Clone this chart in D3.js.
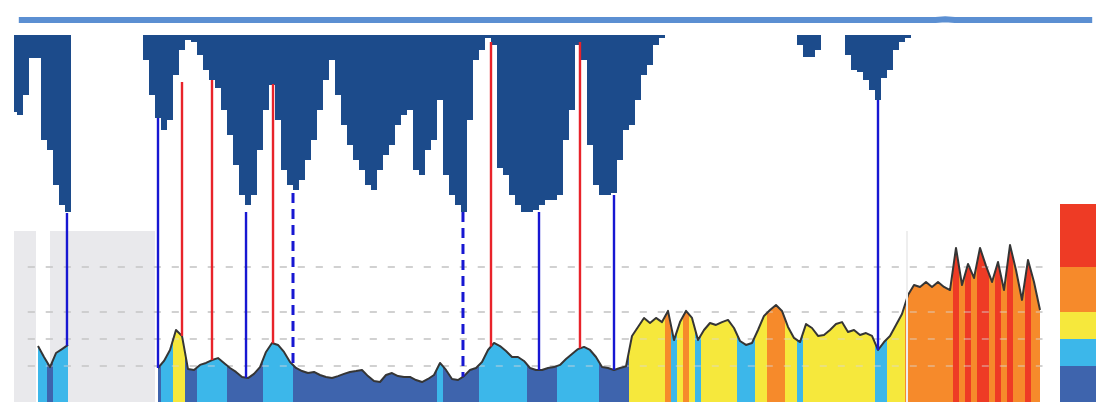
<!DOCTYPE html>
<html>
<head>
<meta charset="utf-8">
<script src="https://cdn.jsdelivr.net/npm/d3@7"></script>
<style>
  html, body { margin: 0; padding: 0; background: #fff; overflow: hidden; }
  svg { display: block; }
</style>
</head>
<body>
<svg id="chart" width="1096" height="402"></svg>
<script>
// ---- data -------------------------------------------------------------
// Concentration per time step (null = no reading)
const concentration = [
  null, null, null, null, 31.1, 25, 19.4, 27.2, 29.4, 31.7,
  null, null, null, null, null, null, null, null, null, null,
  null, null, null, null, 18.9, 22.8, 28.9, 40, 36.7, 18.3,
  17.8, 20.6, 21.7, 23.3, 24.4, 21.7, 18.9, 16.7, 13.9, 13.3,
  15.6, 19.4, 27.8, 32.8, 31.7, 27.8, 22.2, 18.9, 17.2, 16.1,
  16.7, 15, 13.9, 13.3, 14.4, 15.6, 16.7, 17.2, 17.8, 14.4,
  11.7, 11.1, 15, 16.1, 14.4, 13.9, 13.9, 12.2, 11.1, 12.8,
  15, 21.7, 17.8, 12.8, 12.2, 14.4, 17.8, 18.9, 22.2, 28.9,
  32.8, 31.1, 28.3, 25, 25, 22.8, 18.9, 17.8, 17.8, 18.9,
  19.4, 20.6, 23.9, 26.7, 29.4, 30.6, 28.9, 25, 19.4, 18.9,
  17.8, 18.9, 19.8, 36.7, 41.7, 46.7, 43.9, 46.7, 44.4, 50.6,
  34.4, 44.4, 50.6, 46.7, 34.4, 40, 43.9, 42.8, 44.4, 45.6,
  41.1, 33.9, 31.7, 32.8, 40, 47.8, 51.1, 53.9, 50.6, 41.7,
  35.6, 33.3, 43.3, 41.1, 36.7, 37.2, 40, 43.3, 44.4, 38.9,
  40, 37.2, 38.3, 36.7, 28.9, 33.3, 36.7, 42.8, 48.9, 59.4,
  65, 63.9, 66.7, 63.9, 66.7, 63.9, 62.2, 85.6, 65, 76.7,
  68.9, 85.6, 75.6, 66.7, 77.8, 62.2, 87.2, 73.3, 56.7, 78.9,
  66.7, 51.1
];

// Depth hanging below the surface line, per time step
const depth = [
  77, 80, 60, 23, 23, 105, 115, 150, 170, 177,
  0, 0, 0, 0, 0, 0, 0, 0, 0, 0,
  0, 0, 25, 60, 83, 95, 85, 40, 15, 5,
  7, 20, 35, 45, 53, 75, 100, 130, 160, 170,
  160, 115, 75, 50, 85, 135, 150, 155, 145, 125,
  105, 75, 45, 25, 60, 90, 110, 125, 135, 150,
  155, 135, 120, 110, 90, 80, 75, 135, 140, 115,
  105, 65, 140, 160, 170, 177, 85, 25, 15, 3,
  10, 133, 140, 160, 170, 177, 177, 175, 170, 165,
  165, 160, 105, 75, 10, 25, 110, 150, 160, 160,
  158, 125, 95, 90, 65, 40, 30, 10, 3, 0,
  0, 0, 0, 0, 0, 0, 0, 0, 0, 0,
  0, 0, 0, 0, 0, 0, 0, 0, 0, 0,
  0, 10, 22, 22, 15, 0, 0, 0, 0, 20,
  35, 37, 45, 55, 65, 43, 35, 15, 7, 3,
  0, 0, 0, 0, 0, 0, 0, 0, 0, 0,
  0, 0, 0, 0, 0, 0, 0, 0, 0, 0,
  0, 0
];

// Surface reference line (time step, level)
const surfaceSteps = [0.8, 153.6, 155.2, 156.8, 179.7];
const surfaceLevels = [-15, -15, -15.8, -15, -15];

// Marked events: time step, kind, top of the marker (depth units)
const eventSteps = [8.83, 24, 28, 33, 38.67, 43.17, 46.5, 74.83, 79.5, 87.5, 94.33, 100, 144];
const eventKinds = ["blue", "blue", "red", "red", "blue", "red", "dash", "dash", "red", "blue", "red", "blue", "blue"];
const eventTops  = [178, 83, 47, 45, 177, 49, 158, 177, 7, 177, 7, 160, 65];

// Class limits and their colours
const bandLimits = [0, 20, 35, 50, 75, 110];
const bandColors = ["#3e64ad", "#3cb7ea", "#f6e83c", "#f68a2b", "#ee3b25"];

// Periods without readings, shaded grey
const gapStarts = [0, 6];
const gapEnds = [3.67, 23.5];
const gapCeiling = 95;

// Break between the two measurement campaigns
const breakStep = 148.83;

// ---- scales ------------------------------------------------------------
const svg = d3.select("#chart");
const x = d3.scaleLinear().domain([0, 180]).range([14, 1094]);
const y = d3.scaleLinear().domain([0, 110]).range([402, 204]);
const yDepth = d3.scaleLinear().domain([0, 200]).range([35, 235]);
const step = x(1) - x(0);

const colorOf = v => bandColors[Math.min(bandColors.length - 1, Math.max(0, d3.bisectRight(bandLimits, v) - 1))];

const series = concentration.map((v, i) => ({ t: i, v }));
const valueAt = t => {
  const i = Math.floor(t), f = t - i;
  const a = concentration[i], b = concentration[i + 1];
  if (b == null || f === 0) return a;
  return a + (b - a) * f;
};

// ---- grey no-data shading ---------------------------------------------
svg.append("g").selectAll("rect")
  .data(d3.zip(gapStarts, gapEnds))
  .join("rect")
  .attr("x", d => x(d[0]))
  .attr("width", d => x(d[1]) - x(d[0]))
  .attr("y", y(gapCeiling))
  .attr("height", y(0) - y(gapCeiling))
  .attr("fill", "#e9e9ec");

// ---- gridlines (behind) -------------------------------------------------
const gridValues = bandLimits.slice(1, -1);
const grid = g => g.selectAll("line")
  .data(gridValues)
  .join("line")
  .attr("x1", x(2.3)).attr("x2", x(171.4))
  .attr("y1", d => y(d)).attr("y2", d => y(d))
  .attr("stroke-dasharray", "7,11");
svg.append("g").call(grid).attr("stroke", "#bdbdbd").attr("stroke-width", 1.3);

// ---- coloured area -----------------------------------------------------
const defs = svg.append("defs");
const area = d3.area()
  .defined(d => d.v != null)
  .x(d => x(d.t))
  .y0(y(0))
  .y1(d => y(d.v));
defs.append("clipPath").attr("id", "areaClip")
  .append("path").attr("d", area(series));

defs.append("filter").attr("id", "soft")
  .attr("x", "-5%").attr("y", "-5%").attr("width", "110%").attr("height", "110%")
  .append("feGaussianBlur").attr("stdDeviation", 0.7);

svg.append("g").attr("clip-path", "url(#areaClip)")
  .selectAll("rect")
  .data(series.filter(d => d.v != null))
  .join("rect")
  .attr("x", d => x(d.t) - step / 2)
  .attr("width", step + 0.4)
  .attr("y", y(110))
  .attr("height", y(0) - y(110))
  .attr("fill", d => colorOf(d.v));

// gridlines seen through the area
svg.append("g").call(grid).attr("stroke", "#d8d8d8").attr("stroke-opacity", 0.55).attr("stroke-width", 1.3);

// outline of the concentration series
const line = d3.line()
  .defined(d => d.v != null)
  .x(d => x(d.t))
  .y(d => y(d.v));
svg.append("path")
  .attr("d", line(series))
  .attr("fill", "none")
  .attr("stroke", "#363636")
  .attr("stroke-width", 2)
  .attr("stroke-linejoin", "round")
  .attr("filter", "url(#soft)");

// campaign break
svg.append("line")
  .attr("x1", x(breakStep)).attr("x2", x(breakStep))
  .attr("y1", y(gapCeiling)).attr("y2", y(0))
  .attr("stroke", "#eeeeee").attr("stroke-width", 2);

// ---- hanging depth series ---------------------------------------------
const depthArea = d3.area()
  .curve(d3.curveStep)
  .x((d, i) => x(i))
  .y0(yDepth(0))
  .y1(d => yDepth(d));
svg.append("path")
  .attr("d", depthArea(depth))
  .attr("fill", "#1b4b8b")
  .attr("filter", "url(#soft)");

// ---- event markers -----------------------------------------------------
const kindColor = { blue: "#1717d2", dash: "#1717d2", red: "#e8232a" };
svg.append("g").selectAll("line")
  .data(d3.range(eventSteps.length))
  .join("line")
  .attr("x1", i => x(eventSteps[i])).attr("x2", i => x(eventSteps[i]))
  .attr("y1", i => yDepth(eventTops[i]))
  .attr("y2", i => y(valueAt(eventSteps[i])))
  .attr("stroke", i => kindColor[eventKinds[i]])
  .attr("stroke-width", i => eventKinds[i] === "dash" ? 3 : 2.4)
  .attr("stroke-dasharray", i => eventKinds[i] === "dash" ? "10,6" : null);

// ---- surface line ------------------------------------------------------
const surface = d3.line()
  .x(d => x(d[0]))
  .y(d => yDepth(d[1]));
svg.append("path")
  .attr("d", surface(d3.zip(surfaceSteps, surfaceLevels)))
  .attr("fill", "none")
  .attr("stroke", "#5b8fd2")
  .attr("stroke-width", 6);

// ---- colour key --------------------------------------------------------
svg.append("g").selectAll("rect")
  .data(d3.range(bandColors.length))
  .join("rect")
  .attr("x", 1060)
  .attr("width", 36)
  .attr("y", i => y(bandLimits[i + 1]))
  .attr("height", i => y(bandLimits[i]) - y(bandLimits[i + 1]))
  .attr("fill", i => bandColors[i]);
</script>
</body>
</html>
